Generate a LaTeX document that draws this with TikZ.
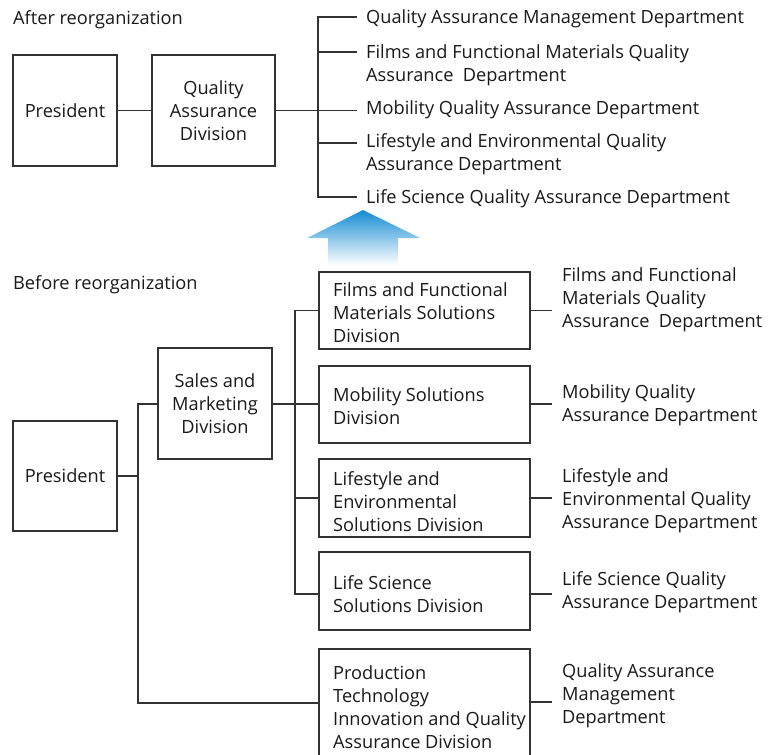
\documentclass[tikz,border=0pt]{standalone}
\usepackage{fontspec}
\setmainfont{Open Sans}
\begin{document}
\begin{tikzpicture}[x=1pt,y=-1pt,
  ln/.style={draw=black!80, line width=1.5pt},
  box/.style={draw=black!80, line width=1.5pt, inner sep=0pt},
  txt/.style={font=\fontsize{18.2}{23}\selectfont, text=black!90, inner sep=0pt, align=left},
  ctxt/.style={font=\fontsize{18.2}{23}\selectfont, text=black!90, inner sep=0pt, align=center}]
\useasboundingbox (0,0) rectangle (774,755);
% ---------- After ----------
\node[txt, anchor=west] (after) at (13,20) {After reorganization};
\node[box, minimum width=104pt, minimum height=111pt] (p1) at (65,110.5) {};
\node[ctxt] (p1t) at (p1) {President};
\node[box, minimum width=123pt, minimum height=111pt] (qa) at (213.5,110.5) {};
\node[ctxt] (qat) at (qa) {Quality\\Assurance\\Division};
\draw[ln] (p1) -- (qa);
\coordinate (b0) at (318,17);
\coordinate (b1) at (318,52);
\coordinate (b2) at (318,110.5);
\coordinate (b3) at (318,143);
\coordinate (b4) at (318,197);
\coordinate (e0) at (357,17);
\coordinate (e1) at (357,52);
\coordinate (e2) at (357,110.5);
\coordinate (e3) at (357,143);
\coordinate (e4) at (357,197);
\draw[ln] (qa.east) -- (b2);
\draw[ln] (e0) -- (b0) -- (b4) -- (e4);
\draw[ln] (b1) -- (e1);
\draw[ln] (b2) -- (e2);
\draw[ln] (b3) -- (e3);
\node[txt, anchor=west] (d0) at (366,19) {Quality Assurance Management Department};
\node[txt, anchor=west] (d1) at (366,65) {Films and Functional Materials Quality\\Assurance\ \ Department};
\node[txt, anchor=west] (d2) at (366,110) {Mobility Quality Assurance Department};
\node[txt, anchor=west] (d3) at (366,154) {Lifestyle and Environmental Quality\\Assurance Department};
\node[txt, anchor=west] (d4) at (366,199) {Life Science Quality Assurance Department};
% ---------- Arrow ----------
\shade[top color={rgb,255:red,20;green,140;blue,212}, bottom color=white, shading angle=0]
  (363,210) -- (420,238) -- (398,238) -- (398,265) -- (328,265) -- (328,238) -- (307,238) -- cycle;
% ---------- Before ----------
\node[txt, anchor=west] (before) at (13,285) {Before reorganization};
\node[box, minimum width=104pt, minimum height=110pt] (p2) at (65,476) {};
\node[ctxt] (p2t) at (p2) {President};
\node[box, minimum width=114pt, minimum height=111pt] (sm) at (215,403.5) {};
\node[ctxt] (smt) at (sm) {Sales and\\Marketing\\Division};
\node[box, minimum width=211pt, minimum height=77pt] (fd) at (424.5,310.5) {};
\node[box, minimum width=211pt, minimum height=77pt] (md) at (424.5,404.5) {};
\node[box, minimum width=211pt, minimum height=78pt] (ld) at (424.5,498) {};
\node[box, minimum width=211pt, minimum height=78pt] (sd) at (424.5,591) {};
\node[box, minimum width=211pt, minimum height=109pt] (pd) at (424.5,703.5) {};
\node[txt, anchor=west] (fdt) at (333,313) {Films and Functional\\Materials Solutions\\Division};
\node[txt, anchor=west] (mdt) at (333,406.5) {Mobility Solutions\\Division};
\node[txt, anchor=west] (ldt) at (333,502) {Lifestyle and\\Environmental\\Solutions Division};
\node[txt, anchor=west] (sdt) at (333,594.5) {Life Science\\Solutions Division};
\node[txt, anchor=west] (pdt) at (333,707.5) {Production\\Technology\\Innovation and Quality\\Assurance Division};
% trunk
\coordinate (t0) at (138,404);
\coordinate (t1) at (138,476);
\coordinate (t2) at (138,703);
\draw[ln] (p2.east |- t1) -- (t1);
\draw[ln] (sm.west |- t0) -- (t0) -- (t2) -- (pd.west |- t2);
% branch
\coordinate (s0) at (295,310.5);
\coordinate (s1) at (295,404);
\coordinate (s2) at (295,498);
\coordinate (s3) at (295,594);
\draw[ln] (sm.east |- s1) -- (md.west |- s1);
\draw[ln] (fd.west |- s0) -- (s0) -- (s3) -- (sd.west |- s3);
\draw[ln] (s2) -- (ld.west |- s2);
% right side
\coordinate (r0) at (552,310.5);
\coordinate (r1) at (552,404);
\coordinate (r2) at (552,498);
\coordinate (r3) at (552,594);
\coordinate (r4) at (552,702);
\draw[ln] (fd.east |- r0) -- (r0);
\draw[ln] (md.east |- r1) -- (r1);
\draw[ln] (ld.east |- r2) -- (r2);
\draw[ln] (sd.east |- r3) -- (r3);
\draw[ln] (pd.east |- r4) -- (r4);
\node[txt, anchor=west] (q0) at (562,300) {Films and Functional\\Materials Quality\\Assurance\ \ Department};
\node[txt, anchor=west] (q1) at (562,405.5) {Mobility Quality\\Assurance Department};
\node[txt, anchor=west] (q2) at (562,501) {Lifestyle and\\Environmental Quality\\Assurance Department};
\node[txt, anchor=west] (q3) at (562,592.5) {Life Science Quality\\Assurance Department};
\node[txt, anchor=west] (q4) at (562,696) {Quality Assurance\\Management\\Department};
\end{tikzpicture}
\end{document}
